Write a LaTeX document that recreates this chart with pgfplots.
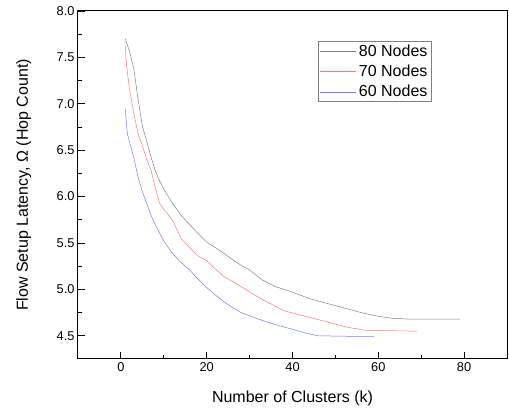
\documentclass[border=0pt]{standalone}
\usepackage{pgfplots}
\pgfplotsset{compat=1.18}
\usepackage{fontspec}
\setmainfont{Liberation Sans}
\definecolor{cgray}{RGB}{128,128,128}
\definecolor{cred}{RGB}{255,120,120}
\definecolor{cblue}{RGB}{120,120,255}
\begin{document}
\begin{tikzpicture}
\begin{axis}[
  scale only axis,
  width=429pt, height=348pt,
  xmin=-10, xmax=90, ymin=4.25, ymax=8.0,
  xtick={0,20,40,60,80},
  ytick={4.5,5.0,5.5,6.0,6.5,7.0,7.5,8.0},
  minor x tick num=1, minor y tick num=1,
  xtick pos=left, ytick pos=left,
  tick align=inside,
  major tick length=7pt, minor tick length=4pt,
  tick style={black, line width=0.8pt},
  axis line style={line width=1pt},
  /pgf/number format/assume math mode=true,
  yticklabel style={/pgf/number format/.cd, fixed, fixed zerofill, precision=1},
  xticklabel style={/pgf/number format/.cd, fixed, precision=0},
  ticklabel style={font=\fontsize{12.8}{14}\selectfont},
  label style={font=\fontsize{16}{18}\selectfont},
  xlabel={Number of Clusters (k)},
  ylabel={Flow Setup Latency, Ω (Hop Count)},
  xlabel style={at={(axis description cs:0.5,-0.1264)}, anchor=base},
  ylabel style={at={(axis description cs:-0.1166,0.5)}, anchor=base},
  legend style={at={(axis description cs:0.560,0.913)}, anchor=north west, draw=cgray,
    font=\fontsize{16}{18.7}\selectfont, row sep=4.4pt, inner xsep=1pt, inner ysep=2pt,
    nodes={inner xsep=3pt, inner ysep=1.35pt}},
  legend cell align=left,
  legend image code/.code={\draw[#1] (0pt,0pt) -- (36pt,0pt);},
]
\addplot[cgray, line width=0.5pt] coordinates {
(1,7.70) (2,7.57) (3,7.38) (4,7.05) (5,6.76) (6,6.60) (7,6.43) (8,6.28) (9,6.17) (10,6.08) (12,5.93) (14,5.80) (16,5.70) (18,5.60) (20,5.51) (22,5.45) (24,5.39) (26,5.32) (28,5.26) (30,5.21) (33,5.10) (36,5.03) (40,4.97) (44,4.90) (48,4.85) (52,4.80) (56,4.75) (60,4.71) (63,4.69) (67,4.68) (79,4.68)
};
\addlegendentry{80 Nodes}
\addplot[cred, line width=0.5pt] coordinates {
(1,7.63) (1.3,7.42) (2,7.16) (3,6.90) (4,6.68) (5,6.55) (6,6.40) (7,6.29) (8,6.10) (9,5.93) (10,5.86) (12,5.75) (13,5.65) (14,5.55) (16,5.45) (18,5.36) (20,5.31) (22,5.22) (24,5.14) (28,5.03) (33,4.89) (38,4.77) (43,4.71) (48,4.65) (53,4.59) (57,4.56) (69,4.55)
};
\addlegendentry{70 Nodes}
\addplot[cblue, line width=0.5pt] coordinates {
(1,6.95) (1.5,6.68) (2.3,6.54) (3,6.42) (4,6.21) (5,6.05) (6,5.93) (7,5.80) (8,5.70) (10,5.52) (12,5.39) (14,5.29) (16,5.21) (18,5.11) (20,5.02) (22,4.94) (24.5,4.85) (28,4.75) (32,4.68) (36,4.62) (40,4.57) (43,4.53) (46,4.50) (59,4.49)
};
\addlegendentry{60 Nodes}
\end{axis}
\path ([shift={(-78pt,-54pt)}]current axis.south west) rectangle ([shift={(2pt,11pt)}]current axis.north east);
\end{tikzpicture}
\end{document}
